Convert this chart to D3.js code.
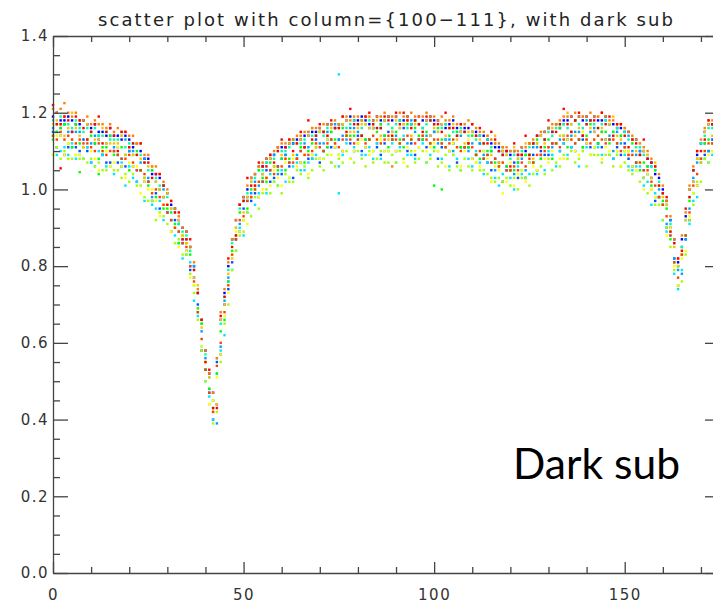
<!DOCTYPE html>
<html>
<head>
<meta charset="utf-8">
<script src="https://cdn.jsdelivr.net/npm/d3@7"></script>
<style>
  body { margin: 0; background: #fff; }
  svg { display: block; }
  .tick text { font-family: "DejaVu Sans", sans-serif; font-size: 15px; fill: #333; letter-spacing: 1.5px; }
  .domain, .tick line { stroke: #444; stroke-width: 1.3; }
</style>
</head>
<body>
<svg id="chart" width="713" height="605"></svg>
<script>
// one value per detector pixel (x = 0, 1, 2 ...), one array per column
const col100 = [
  1.19,1.20,1.18,1.18,1.19,1.18,1.17,1.17,1.18,1.17, 1.16,1.17,1.15,1.15,1.14,1.16,1.14,1.14,1.13,1.14,
  1.13,1.11,1.12,1.10,1.08,1.08,1.04,1.04,1.03,1.01, 0.99,0.96,0.95,0.92,0.90,0.89,0.85,0.80,0.73,0.66,
  0.58,0.52,0.47,0.44,0.66,0.73,0.80,0.87,0.92,0.96, 0.98,1.00,1.03,1.04,1.06,1.06,1.08,1.08,1.09,1.11,
  1.11,1.11,1.12,1.12,1.13,1.13,1.14,1.14,1.15,1.15, 1.16,1.15,1.17,1.17,1.16,1.17,1.17,1.18,1.19,1.18,
  1.18,1.19,1.18,1.17,1.18,1.19,1.18,1.18,1.19,1.18, 1.19,1.18,1.18,1.19,1.17,1.18,1.19,1.18,1.18,1.19,
  1.18,1.18,1.17,1.16,1.17,1.18,1.16,1.15,1.16,1.16, 1.15,1.15,1.14,1.14,1.13,1.12,1.11,1.11,1.10,1.10,
  1.09,1.10,1.09,1.11,1.10,1.12,1.12,1.14,1.14,1.15, 1.16,1.15,1.17,1.16,1.18,1.18,1.19,1.18,1.19,1.18,
  1.19,1.18,1.19,1.18,1.18,1.19,1.17,1.17,1.16,1.16, 1.15,1.15,1.13,1.13,1.10,1.10,1.08,1.07,1.04,1.03,
  1.00,0.97,0.92,0.87,0.81,0.87,0.93,1.00,1.05,1.09, 1.12,1.15,1.17,1.17
];
const col101 = [
  1.15,1.11,1.14,1.09,1.11,1.15,1.11,1.10,1.13,1.10, 1.07,1.12,1.13,1.09,1.07,1.07,1.10,1.07,1.06,1.06,
  1.10,1.06,1.02,1.05,1.02,1.02,0.97,0.99,0.95,0.98, 0.94,0.89,0.92,0.91,0.86,0.84,0.79,0.77,0.70,0.58,
  0.53,0.47,0.40,0.55,0.57,0.70,0.74,0.81,0.87,0.89, 0.95,0.98,0.97,0.99,0.98,1.02,1.05,1.02,1.03,1.06,
  1.04,1.09,1.06,1.03,1.08,1.07,1.11,1.08,1.08,1.13, 1.07,1.10,1.13,1.11,1.11,1.13,1.10,1.14,1.12,1.10,
  1.14,1.10,1.11,1.13,1.16,1.11,1.09,1.12,1.15,1.13, 1.10,1.12,1.16,1.10,1.12,1.09,1.13,1.13,1.11,1.14,
  1.15,1.08,1.11,1.13,1.10,1.12,1.07,1.11,1.11,1.11, 1.08,1.09,1.12,1.08,1.07,1.05,1.08,1.07,1.02,1.05,
  1.05,1.07,1.03,1.09,1.03,1.07,1.09,1.05,1.10,1.09, 1.09,1.12,1.12,1.10,1.12,1.13,1.11,1.10,1.13,1.13,
  1.12,1.11,1.15,1.12,1.11,1.13,1.13,1.08,1.11,1.09, 1.12,1.08,1.06,1.07,1.09,1.03,1.04,1.03,0.97,0.98,
  0.96,0.90,0.90,0.82,0.75,0.85,0.87,0.92,1.02,1.01, 1.08,1.09,1.10,1.13
];
const col102 = [
  1.16,1.15,1.16,1.17,1.15,1.11,1.15,1.15,1.18,1.11, 1.12,1.14,1.14,1.09,1.12,1.14,1.11,1.11,1.08,1.13,
  1.10,1.10,1.05,1.07,1.08,1.03,0.98,1.02,1.00,1.00, 0.94,0.92,0.95,0.89,0.87,0.87,0.80,0.80,0.68,0.63,
  0.56,0.48,0.45,0.39,0.59,0.71,0.77,0.87,0.87,0.91, 0.97,0.97,0.99,1.02,1.01,1.04,1.07,1.05,1.09,1.04,
  1.08,1.09,1.07,1.12,1.09,1.10,1.12,1.11,1.09,1.14, 1.12,1.12,1.15,1.13,1.17,1.13,1.14,1.13,1.16,1.16,
  1.15,1.14,1.13,1.16,1.16,1.12,1.16,1.14,1.19,1.15, 1.14,1.16,1.13,1.12,1.18,1.15,1.13,1.16,1.14,1.18,
  1.15,1.12,1.12,1.17,1.13,1.10,1.14,1.14,1.15,1.10, 1.12,1.14,1.12,1.09,1.09,1.10,1.05,1.10,1.09,1.06,
  1.10,1.04,1.07,1.08,1.05,1.09,1.11,1.11,1.09,1.13, 1.16,1.11,1.12,1.13,1.17,1.13,1.14,1.15,1.15,1.14,
  1.18,1.15,1.16,1.12,1.15,1.18,1.14,1.10,1.15,1.12, 1.11,1.14,1.10,1.09,1.10,1.05,1.06,1.06,0.98,1.00,
  0.99,0.91,0.92,0.82,0.79,0.78,0.87,0.95,1.03,1.07, 1.12,1.12,1.10,1.17
];
const col103 = [
  1.14,1.09,1.10,1.11,1.09,1.12,1.08,1.09,1.08,1.11, 1.07,1.06,1.10,1.09,1.06,1.06,1.04,1.09,1.07,1.01,
  1.06,1.03,1.02,1.05,0.97,1.02,0.96,0.95,0.97,0.92, 0.94,0.92,0.88,0.86,0.82,0.83,0.81,0.71,0.67,0.59,
  0.50,0.46,0.40,0.52,0.58,0.62,0.76,0.79,0.84,0.90, 0.88,0.94,0.98,0.96,0.99,1.02,0.99,1.04,1.02,1.01,
  1.05,1.02,1.03,1.06,1.07,1.05,1.05,1.07,1.08,1.09, 1.08,1.08,1.11,1.07,1.11,1.06,1.09,1.12,1.08,1.11,
  1.13,1.09,1.09,1.11,1.08,1.12,1.08,1.10,1.10,1.12, 1.07,1.11,1.14,1.09,1.09,1.08,1.11,1.12,1.07,1.09,
  1.11,1.10,1.08,1.13,1.06,1.09,1.08,1.05,1.11,1.08, 1.06,1.10,1.07,1.04,1.07,1.07,1.03,1.01,1.04,1.05,
  1.03,1.00,1.06,1.04,1.03,1.04,1.07,1.04,1.08,1.05, 1.10,1.09,1.06,1.10,1.12,1.09,1.11,1.12,1.06,1.11,
  1.11,1.09,1.11,1.11,1.09,1.13,1.09,1.08,1.10,1.06, 1.09,1.06,1.05,1.06,1.06,1.01,1.02,0.96,0.99,0.98,
  0.92,0.89,0.88,0.78,0.74,0.79,0.88,0.91,0.97,0.98, 1.07,1.08,1.07,1.09
];
const col104 = [
  1.18,1.17,1.19,1.17,1.17,1.16,1.18,1.16,1.15,1.16, 1.15,1.16,1.14,1.14,1.15,1.13,1.13,1.13,1.14,1.11,
  1.12,1.12,1.09,1.09,1.07,1.05,1.05,1.03,1.01,1.01, 0.98,0.95,0.94,0.91,0.89,0.88,0.84,0.79,0.73,0.65,
  0.57,0.51,0.45,0.56,0.65,0.72,0.79,0.86,0.90,0.95, 0.97,0.99,1.02,1.03,1.05,1.05,1.07,1.09,1.08,1.10,
  1.10,1.10,1.11,1.13,1.12,1.12,1.13,1.15,1.14,1.14, 1.15,1.14,1.16,1.15,1.16,1.17,1.17,1.16,1.17,1.18,
  1.17,1.16,1.17,1.18,1.17,1.16,1.17,1.18,1.17,1.16, 1.17,1.18,1.17,1.16,1.17,1.18,1.17,1.16,1.17,1.18,
  1.17,1.15,1.16,1.17,1.16,1.15,1.15,1.16,1.15,1.14, 1.15,1.13,1.14,1.12,1.13,1.11,1.12,1.10,1.09,1.09,
  1.08,1.09,1.08,1.10,1.09,1.11,1.12,1.12,1.14,1.13, 1.15,1.14,1.16,1.17,1.17,1.16,1.17,1.18,1.17,1.16,
  1.17,1.18,1.17,1.16,1.17,1.18,1.17,1.15,1.16,1.14, 1.15,1.13,1.13,1.11,1.11,1.09,1.09,1.06,1.05,1.02,
  0.99,0.96,0.91,0.86,0.80,0.85,0.92,0.98,1.05,1.08, 1.12,1.14,1.16,1.16
];
const col105 = [
  1.13,1.15,1.16,1.17,1.12,1.11,1.17,1.12,1.11,1.13, 1.14,1.12,1.08,1.11,1.11,1.14,1.09,1.09,1.11,1.09,
  1.05,1.09,1.10,1.05,1.03,1.01,1.05,0.98,1.00,0.95, 0.95,0.94,0.91,0.86,0.88,0.86,0.83,0.75,0.69,0.65,
  0.53,0.48,0.43,0.52,0.63,0.66,0.76,0.84,0.88,0.94, 0.92,0.95,1.00,1.00,1.05,1.03,1.02,1.07,1.06,1.05,
  1.08,1.05,1.08,1.13,1.08,1.11,1.07,1.10,1.12,1.11, 1.15,1.10,1.11,1.15,1.13,1.09,1.16,1.14,1.14,1.14,
  1.12,1.18,1.13,1.13,1.10,1.15,1.17,1.14,1.11,1.13, 1.15,1.13,1.11,1.17,1.13,1.16,1.14,1.13,1.15,1.12,
  1.11,1.16,1.13,1.11,1.14,1.12,1.15,1.11,1.11,1.11, 1.14,1.09,1.08,1.10,1.10,1.10,1.07,1.06,1.11,1.06,
  1.05,1.05,1.07,1.05,1.09,1.09,1.07,1.13,1.08,1.11, 1.13,1.08,1.12,1.16,1.14,1.11,1.15,1.18,1.13,1.11,
  1.14,1.17,1.11,1.12,1.15,1.15,1.12,1.15,1.12,1.14, 1.10,1.10,1.12,1.07,1.05,1.07,1.06,1.01,1.05,0.98,
  0.97,0.95,0.87,0.81,0.80,0.83,0.88,0.97,0.99,1.08, 1.07,1.12,1.13,1.12
];
const col106 = [
  1.09,1.11,1.08,1.10,1.08,1.08,1.09,1.08,1.08,1.07, 1.08,1.06,1.07,1.05,1.05,1.06,1.05,1.05,1.03,1.04,
  1.02,1.04,1.01,1.01,0.98,0.97,0.97,0.92,0.94,0.93, 0.91,0.89,0.86,0.87,0.83,0.83,0.78,0.73,0.66,0.58,
  0.50,0.44,0.39,0.42,0.55,0.65,0.70,0.79,0.84,0.88, 0.89,0.94,0.93,0.98,0.95,0.99,1.00,0.99,1.02,1.01,
  0.99,1.04,1.02,1.02,1.05,1.04,1.06,1.03,1.05,1.08, 1.06,1.05,1.09,1.07,1.06,1.08,1.07,1.10,1.08,1.07,
  1.10,1.08,1.06,1.10,1.07,1.08,1.10,1.07,1.07,1.09, 1.07,1.10,1.08,1.06,1.10,1.07,1.08,1.10,1.07,1.08,
  1.10,1.06,1.07,1.09,1.05,1.09,1.06,1.05,1.08,1.06, 1.05,1.07,1.05,1.05,1.04,1.03,1.02,1.03,1.02,1.03,
  1.01,1.03,1.00,1.03,1.03,1.01,1.04,1.05,1.06,1.04, 1.08,1.05,1.07,1.06,1.09,1.08,1.10,1.07,1.08,1.10,
  1.06,1.09,1.09,1.09,1.07,1.09,1.09,1.06,1.09,1.06, 1.07,1.05,1.04,1.05,1.02,1.03,0.99,1.00,0.96,0.96,
  0.92,0.90,0.85,0.79,0.75,0.76,0.83,0.92,0.96,1.02, 1.02,1.08,1.07,1.10
];
const col107 = [
  1.09,1.14,1.14,1.09,1.12,1.13,1.09,1.09,1.11,1.13, 1.10,1.08,1.05,1.10,1.10,1.06,1.07,1.11,1.06,1.03,
  1.07,1.06,1.06,0.99,1.02,1.00,1.00,0.97,0.93,0.96, 0.96,0.89,0.90,0.85,0.88,0.84,0.77,0.75,0.68,0.59,
  0.55,0.44,0.45,0.51,0.57,0.67,0.73,0.83,0.89,0.89, 0.92,0.91,0.98,1.00,0.98,1.00,1.03,1.01,1.05,1.03,
  1.01,1.07,1.03,1.08,1.06,1.07,1.09,1.04,1.09,1.12, 1.08,1.08,1.13,1.09,1.11,1.09,1.10,1.14,1.08,1.10,
  1.12,1.13,1.11,1.09,1.10,1.13,1.13,1.10,1.10,1.14, 1.10,1.12,1.07,1.11,1.14,1.10,1.11,1.14,1.10,1.11,
  1.12,1.10,1.12,1.06,1.10,1.12,1.11,1.06,1.10,1.13, 1.08,1.07,1.06,1.10,1.08,1.02,1.06,1.05,1.07,1.02,
  1.07,1.01,1.04,1.05,1.02,1.07,1.06,1.05,1.11,1.08, 1.07,1.10,1.12,1.08,1.08,1.13,1.13,1.10,1.09,1.15,
  1.12,1.09,1.11,1.14,1.08,1.11,1.10,1.13,1.10,1.06, 1.10,1.10,1.06,1.05,1.07,1.00,1.04,1.00,0.98,0.98,
  0.96,0.88,0.90,0.80,0.75,0.82,0.84,0.93,0.99,1.01, 1.08,1.10,1.09,1.10
];
const col108 = [
  1.17,1.18,1.17,1.14,1.16,1.20,1.16,1.14,1.11,1.17, 1.15,1.13,1.13,1.16,1.12,1.12,1.12,1.12,1.14,1.09,
  1.11,1.09,1.12,1.08,1.03,1.06,1.06,1.02,1.00,0.98, 0.99,0.95,0.90,0.92,0.88,0.86,0.85,0.77,0.75,0.64,
  0.55,0.51,0.42,0.44,0.66,0.70,0.78,0.82,0.90,0.96, 0.94,0.98,1.02,1.01,1.06,1.04,1.03,1.08,1.06,1.11,
  1.09,1.08,1.12,1.09,1.12,1.13,1.11,1.14,1.16,1.11, 1.15,1.15,1.14,1.16,1.12,1.16,1.17,1.18,1.15,1.15,
  1.16,1.17,1.17,1.16,1.16,1.18,1.14,1.18,1.13,1.15, 1.18,1.16,1.17,1.18,1.14,1.17,1.17,1.14,1.18,1.14,
  1.16,1.15,1.17,1.14,1.16,1.17,1.13,1.15,1.12,1.15, 1.15,1.09,1.13,1.12,1.14,1.09,1.14,1.07,1.10,1.09,
  1.05,1.11,1.08,1.09,1.12,1.12,1.08,1.12,1.14,1.12, 1.11,1.16,1.17,1.14,1.14,1.20,1.17,1.14,1.16,1.19,
  1.13,1.16,1.15,1.19,1.16,1.13,1.17,1.19,1.14,1.13, 1.16,1.09,1.13,1.10,1.09,1.10,1.09,1.03,1.07,1.01,
  0.98,0.96,0.89,0.85,0.80,0.83,0.92,1.00,1.02,1.08, 1.07,1.15,1.17,1.14
];
const col109 = [
  1.21,1.20,1.21,1.19,1.20,1.19,1.20,1.18,1.18,1.19, 1.17,1.18,1.17,1.17,1.16,1.17,1.15,1.16,1.15,1.15,
  1.14,1.14,1.12,1.12,1.09,1.09,1.06,1.06,1.04,1.02, 1.00,0.97,0.95,0.93,0.90,0.89,0.85,0.81,0.74,0.66,
  0.58,0.52,0.47,0.56,0.68,0.74,0.81,0.87,0.92,0.96, 0.98,1.01,1.03,1.04,1.06,1.07,1.08,1.09,1.10,1.11,
  1.12,1.12,1.13,1.13,1.14,1.14,1.15,1.15,1.16,1.16, 1.16,1.17,1.17,1.17,1.18,1.17,1.19,1.19,1.18,1.19,
  1.19,1.18,1.19,1.19,1.18,1.19,1.19,1.20,1.19,1.19, 1.19,1.20,1.19,1.19,1.20,1.19,1.19,1.19,1.20,1.19,
  1.19,1.18,1.19,1.18,1.18,1.19,1.17,1.17,1.17,1.18, 1.17,1.16,1.15,1.15,1.14,1.13,1.12,1.12,1.11,1.11,
  1.10,1.10,1.10,1.11,1.11,1.12,1.13,1.14,1.15,1.15, 1.16,1.17,1.17,1.18,1.19,1.19,1.19,1.20,1.19,1.19,
  1.19,1.20,1.19,1.19,1.20,1.19,1.18,1.18,1.17,1.17, 1.16,1.15,1.14,1.13,1.12,1.11,1.10,1.08,1.06,1.04,
  1.01,0.97,0.93,0.87,0.82,0.88,0.94,1.01,1.06,1.10, 1.13,1.16,1.18,1.18
];
const col110 = [
  1.14,1.13,1.15,1.13,1.14,1.13,1.12,1.13,1.12,1.12, 1.11,1.10,1.12,1.10,1.09,1.10,1.10,1.09,1.08,1.08,
  1.09,1.07,1.05,1.05,1.04,1.02,0.99,1.00,0.98,0.96, 0.94,0.92,0.90,0.89,0.86,0.85,0.80,0.76,0.68,0.61,
  0.53,0.47,0.42,0.54,0.60,0.68,0.75,0.83,0.87,0.92, 0.93,0.97,0.98,1.00,1.02,1.02,1.03,1.05,1.04,1.06,
  1.06,1.08,1.07,1.07,1.08,1.10,1.09,1.09,1.10,1.12, 1.11,1.10,1.12,1.13,1.12,1.11,1.13,1.14,1.13,1.12,
  1.13,1.14,1.12,1.13,1.14,1.13,1.12,1.13,1.14,1.13, 1.13,1.12,1.13,1.14,1.13,1.12,1.13,1.14,1.13,1.12,
  1.13,1.13,1.12,1.11,1.12,1.13,1.11,1.10,1.11,1.12, 1.11,1.09,1.10,1.08,1.09,1.07,1.08,1.06,1.07,1.05,
  1.05,1.06,1.05,1.07,1.06,1.08,1.07,1.09,1.09,1.10, 1.11,1.12,1.12,1.11,1.13,1.14,1.13,1.12,1.13,1.14,
  1.13,1.12,1.13,1.14,1.13,1.12,1.13,1.13,1.12,1.10, 1.11,1.09,1.09,1.07,1.07,1.05,1.05,1.02,1.01,0.98,
  0.96,0.93,0.88,0.81,0.77,0.83,0.88,0.94,1.01,1.04, 1.08,1.10,1.12,1.12
];
const col111 = [
  1.22,1.17,1.17,1.19,1.18,1.15,1.19,1.18,1.16,1.13, 1.15,1.17,1.19,1.12,1.15,1.16,1.14,1.10,1.15,1.15,
  1.11,1.12,1.09,1.12,1.07,1.07,1.03,1.04,1.04,1.01, 0.96,0.97,0.94,0.94,0.87,0.87,0.87,0.79,0.73,0.66,
  0.55,0.53,0.43,0.43,0.67,0.72,0.82,0.85,0.88,0.96, 0.97,1.03,1.01,1.01,1.07,1.06,1.06,1.09,1.07,1.10,
  1.13,1.11,1.13,1.10,1.12,1.15,1.11,1.18,1.13,1.14, 1.17,1.15,1.14,1.18,1.16,1.16,1.19,1.15,1.21,1.17,
  1.17,1.14,1.19,1.20,1.17,1.16,1.16,1.19,1.18,1.14, 1.20,1.17,1.20,1.18,1.16,1.18,1.17,1.15,1.19,1.18,
  1.17,1.17,1.15,1.20,1.16,1.16,1.14,1.17,1.15,1.12, 1.17,1.14,1.16,1.12,1.12,1.15,1.13,1.10,1.09,1.10,
  1.06,1.12,1.09,1.09,1.14,1.09,1.12,1.14,1.11,1.13, 1.18,1.15,1.15,1.17,1.21,1.17,1.15,1.18,1.20,1.14,
  1.17,1.18,1.18,1.16,1.20,1.17,1.19,1.14,1.17,1.17, 1.14,1.11,1.13,1.12,1.09,1.13,1.08,1.07,1.06,1.01,
  0.99,0.98,0.89,0.86,0.82,0.84,0.95,0.98,1.05,1.10, 1.10,1.13,1.18,1.17
];

// stray single points
const strayX = [2, 3, 7, 12, 75, 75, 89, 100, 102, 118];
const strayY = [1.055, 1.225, 1.045, 1.04, 1.30, 0.99, 1.06, 1.01, 1.00, 0.99];
const strayColumn = [11, 9, 5, 5, 3, 3, 9, 5, 5, 7];

const columnColors = ['#0000ff', '#0050ff', '#00a0ff', '#00e4ff', '#00ffa0', '#00ff00',
                      '#a0ff00', '#ffff00', '#ffc000', '#ff8000', '#ff4000', '#ff0000'];

const xMajorTicks = [0, 50, 100, 150];
const xMinorTicks = [10, 20, 30, 40, 60, 70, 80, 90, 110, 120, 130, 140, 160, 170];
const yMajorTicks = [0, 0.2, 0.4, 0.6, 0.8, 1.0, 1.2, 1.4];
const yMinorTicks = [0.05, 0.1, 0.15, 0.25, 0.3, 0.35, 0.45, 0.5, 0.55, 0.65, 0.7, 0.75,
                     0.85, 0.9, 0.95, 1.05, 1.1, 1.15, 1.25, 1.3, 1.35];

const titleText = 'scatter plot with column={100\u2212111}, with dark sub';
const noteText = 'Dark sub';

const svg = d3.select('#chart');
const plotLeft = 53, plotRight = 720, plotTop = 36, plotBottom = 573;

const x = d3.scaleLinear().domain([0, 175]).range([plotLeft, plotRight]);
const y = d3.scaleLinear().domain([0, 1.4]).range([plotBottom, plotTop]);

const columns = [col100, col101, col102, col103, col104, col105,
                 col106, col107, col108, col109, col110, col111];
const size = 2.4;

const dots = svg.append('g');
columns.forEach((vals, k) => {
  dots.append('g')
    .selectAll('rect')
    .data(vals)
    .enter()
    .append('rect')
    .attr('x', (d, i) => x(i) - size / 2)
    .attr('y', (d) => y(d) - size / 2)
    .attr('width', size)
    .attr('height', size)
    .attr('fill', columnColors[k]);
});

dots.append('g')
  .selectAll('rect')
  .data(strayX)
  .enter()
  .append('rect')
  .attr('x', (d) => x(d) - size / 2)
  .attr('y', (d, i) => y(strayY[i]) - size / 2)
  .attr('width', size)
  .attr('height', size)
  .attr('fill', (d, i) => columnColors[strayColumn[i]]);

// IDL style box: ticks inward on all four sides
svg.append('g')
  .attr('transform', `translate(0,${plotBottom})`)
  .call(d3.axisBottom(x).tickValues(xMajorTicks).tickSize(-11).tickSizeOuter(0).tickPadding(16));
svg.append('g')
  .attr('transform', `translate(0,${plotBottom})`)
  .call(d3.axisBottom(x).tickValues(xMinorTicks).tickSize(-6).tickFormat(''))
  .select('.domain').remove();

svg.append('g')
  .attr('transform', `translate(0,${plotTop})`)
  .call(d3.axisTop(x).tickValues(xMajorTicks).tickSize(-11).tickSizeOuter(0).tickFormat(''));
svg.append('g')
  .attr('transform', `translate(0,${plotTop})`)
  .call(d3.axisTop(x).tickValues(xMinorTicks).tickSize(-6).tickFormat(''))
  .select('.domain').remove();

svg.append('g')
  .attr('transform', `translate(${plotLeft},0)`)
  .call(d3.axisLeft(y).tickValues(yMajorTicks).tickSize(-15).tickSizeOuter(0)
    .tickPadding(4).tickFormat(d3.format('.1f')));
svg.append('g')
  .attr('transform', `translate(${plotLeft},0)`)
  .call(d3.axisLeft(y).tickValues(yMinorTicks).tickSize(-7).tickFormat(''))
  .select('.domain').remove();

svg.append('g')
  .attr('transform', `translate(${plotRight},0)`)
  .call(d3.axisRight(y).tickValues(yMajorTicks).tickSize(-15).tickSizeOuter(0).tickFormat(''));
svg.append('g')
  .attr('transform', `translate(${plotRight},0)`)
  .call(d3.axisRight(y).tickValues(yMinorTicks).tickSize(-7).tickFormat(''))
  .select('.domain').remove();

svg.append('text')
  .attr('x', (plotLeft + plotRight) / 2 - 1)
  .attr('y', 26)
  .attr('text-anchor', 'middle')
  .attr('textLength', 575)
  .attr('lengthAdjust', 'spacing')
  .style('font-family', '"DejaVu Sans", sans-serif')
  .style('font-size', '18px')
  .style('fill', '#222')
  .text(titleText);

svg.append('text')
  .attr('x', 513)
  .attr('y', 479)
  .attr('textLength', 167)
  .attr('lengthAdjust', 'spacingAndGlyphs')
  .style('font-family', 'Lato, "Open Sans", sans-serif')
  .style('font-size', '42px')
  .style('fill', '#000')
  .text(noteText);
</script>
</body>
</html>
